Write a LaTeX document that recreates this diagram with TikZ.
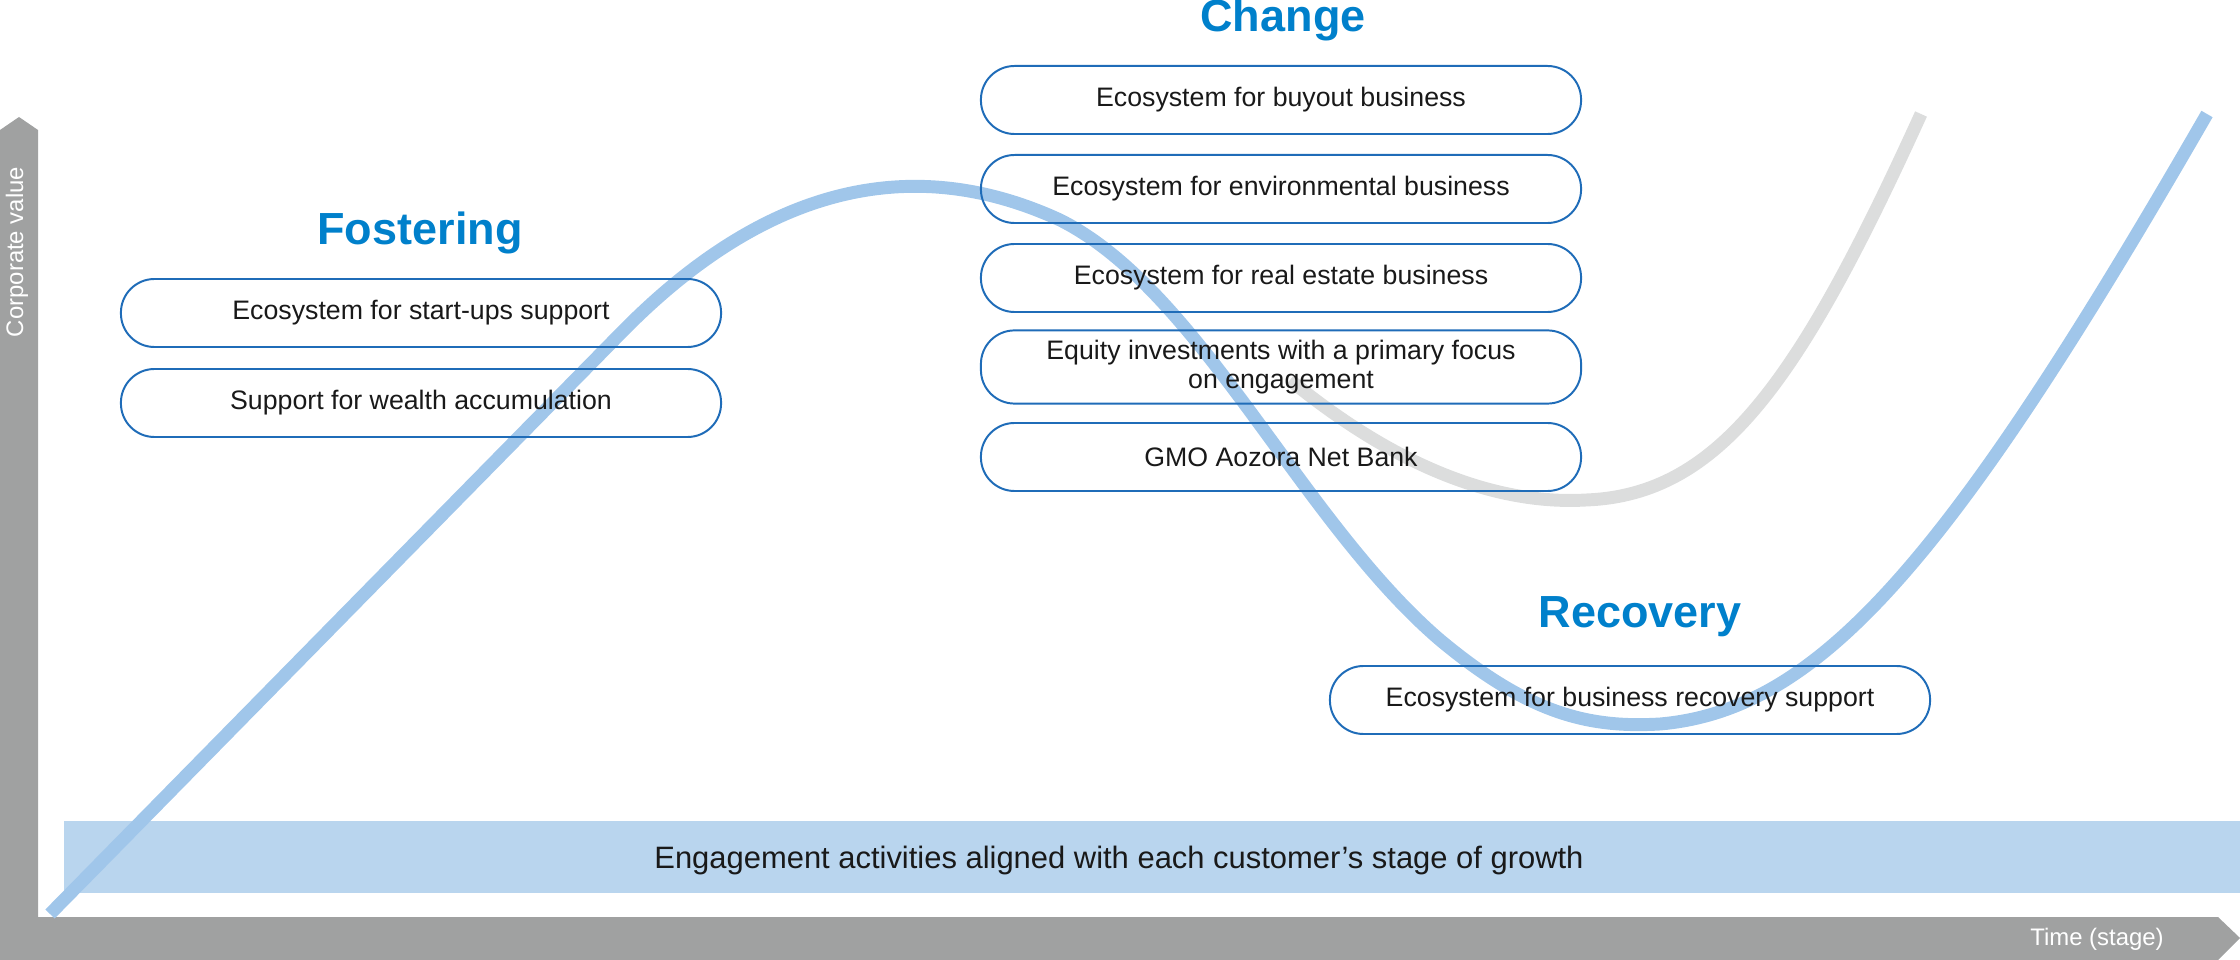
\documentclass[tikz,border=0pt]{standalone}
\usepackage{fontspec}
\setmainfont{Liberation Sans}
\definecolor{curveblue}{HTML}{A0C6EA}
\definecolor{curvegray}{HTML}{DCDDDD}
\definecolor{boxblue}{HTML}{1F6CB8}
\definecolor{titleblue}{HTML}{0080CB}
\definecolor{band}{HTML}{B9D5EE}
\definecolor{axis}{HTML}{A0A1A1}
\begin{document}
\begin{tikzpicture}[x=0.0125cm,y=-0.0125cm,
  item/.style={draw=boxblue,line width=0.7pt,rounded corners=0.42cm,minimum width=7.5cm,minimum height=0.85cm,align=center,font=\fontsize{9.5}{10.5}\selectfont,text=black!90},
  title/.style={font=\fontsize{16}{18}\selectfont\bfseries,text=titleblue},
  crv/.style={line width=4.6pt}]
\useasboundingbox (0,0) rectangle (2240,960);
% axes
\fill[axis] (0,130) -- (19,117) -- (38,130) -- (38,960) -- (0,960) -- cycle;
\fill[axis] (0,917) -- (2218,917) -- (2240,938) -- (2218,960) -- (0,960) -- cycle;
\node[rotate=90,text=white,font=\fontsize{8.5}{10}\selectfont] (cv) at (17,252) {Corporate value};
\node[text=white,font=\fontsize{8.5}{10}\selectfont] (ts) at (2097,939) {Time (stage)};
% band
\fill[band] (64,821) rectangle (2240,893);
\node[font=\fontsize{11}{13}\selectfont,text=black!90] (eng) at (1119,860) {Engagement activities aligned with each customer’s stage of growth};
% curves
\draw[curvegray,crv] (1290,380) .. controls (1400,470) and (1500,505) .. (1586,500) .. controls (1720,495) and (1800,380) .. (1921,114);
\draw[curveblue,crv] (50,914) -- (620,334) .. controls (780,170) and (930,160) .. (1060,220) .. controls (1200,290) and (1300,520) .. (1440,640) .. controls (1530,715) and (1590,728) .. (1660,724) .. controls (1820,710) and (1950,560) .. (2207,114);
% titles
\node[title] (fos) at (420,233) {Fostering};
\node[title] (chg) at (1283,20) {Change};
\node[title] (rec) at (1640,617) {Recovery};
% boxes
\node[item] (f1) at (421,313) {Ecosystem for start-ups support};
\node[item] (f2) at (421,403) {Support for wealth accumulation};
\node[item] (c1) at (1281,100) {Ecosystem for buyout business};
\node[item] (c2) at (1281,189) {Ecosystem for environmental business};
\node[item] (c3) at (1281,278) {Ecosystem for real estate business};
\node[item] (c4) at (1281,367) {Equity investments with a primary focus\\on engagement};
\node[item] (c5) at (1281,457) {GMO Aozora Net Bank};
\node[item] (r1) at (1630,700) {Ecosystem for business recovery support};
\end{tikzpicture}
\end{document}
